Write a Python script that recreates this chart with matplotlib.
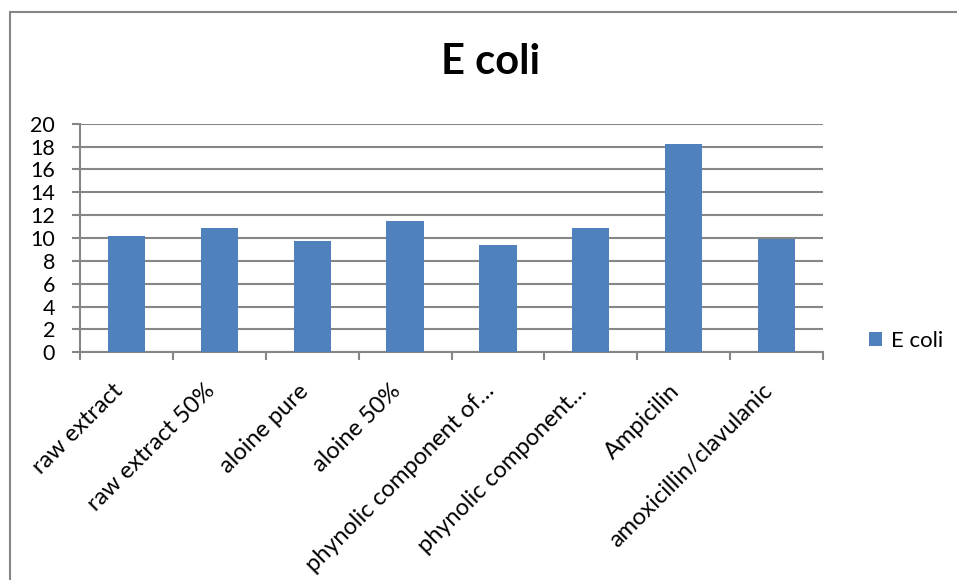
import matplotlib.pyplot as plt
from matplotlib.patches import Rectangle

# Inhibition zone for E. coli per treatment
categories = ["raw extract", "raw extract 50%", "aloine pure", "aloine 50%",
              "phynolic component of…", "phynolic component…",
              "Ampicilin", "amoxicillin/clavulanic"]
values = [10.2, 10.9, 9.7, 11.5, 9.4, 10.9, 18.2, 9.9]
series_name = "E coli"
yticks = list(range(0, 21, 2))

plt.rcParams['font.family'] = ['Lato', 'DejaVu Sans']
bar_color = "#4f81bd"
grid_color = "#868686"

fig = plt.figure(figsize=(9.57, 5.8), dpi=100)

# outer chart border
fig.patches.append(Rectangle((10 / 957, -0.1), 1.2, 1 - 12 / 580 + 0.1,
                             transform=fig.transFigure, fill=False,
                             edgecolor=grid_color, linewidth=1.5))

ax = fig.add_axes([80 / 957, 1 - 352.3 / 580, (823 - 80) / 957, 228.6 / 580])
x = range(len(categories))
ax.bar(x, values, width=0.4, color=bar_color, label=series_name, zorder=3)

ax.set_xlim(-0.5, len(categories) - 0.5)
ax.set_ylim(0, 20)
ax.set_yticks(yticks)
ax.set_yticklabels([str(t) for t in yticks], fontsize=15.5)
ax.yaxis.grid(True, color=grid_color, linewidth=1.5, zorder=0)
ax.set_axisbelow(True)

# category ticks sit on the boundaries between bars
ax.set_xticks([i - 0.5 for i in range(len(categories) + 1)], minor=False)
ax.set_xticklabels([])
ax.set_xticks(list(x), minor=True)
ax.set_xticklabels(categories, minor=True, rotation=45, ha='right',
                   fontsize=17)
ax.tick_params(axis='x', which='minor', length=0, pad=20)
ax.tick_params(axis='x', which='major', length=6, color=grid_color, width=1.5)
ax.tick_params(axis='y', length=6, color=grid_color, width=1.5, pad=12)

for side in ["top", "right"]:
    ax.spines[side].set_visible(False)
for side in ["left", "bottom"]:
    ax.spines[side].set_color(grid_color)
    ax.spines[side].set_linewidth(1.5)

fig.text(491 / 957, 1 - 62 / 580, "E coli", ha='center', va='center',
         fontsize=30, fontweight='bold')

ax.legend(loc='center left', bbox_to_anchor=(1.035, 0.05), frameon=False,
          fontsize=16, handlelength=0.6, handleheight=0.6, handletextpad=0.4)

fig.savefig("out.png", dpi=100)
